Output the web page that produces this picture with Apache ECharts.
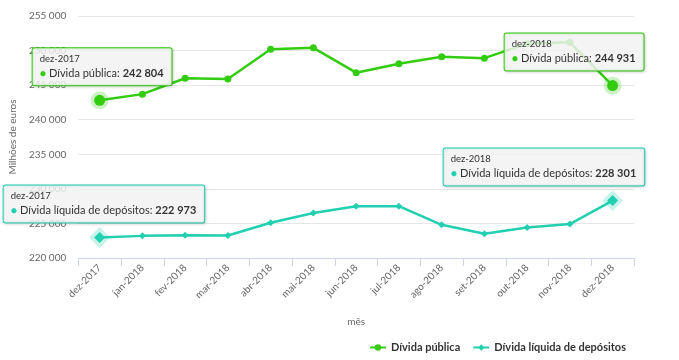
<!DOCTYPE html>
<html>
<head>
<meta charset="utf-8">
<script src="https://cdn.jsdelivr.net/npm/echarts@6/dist/echarts.min.js"></script>
<style>html,body{margin:0;padding:0;background:#fff;}#c{width:679px;height:360px;}</style>
</head>
<body>
<div id="c"></div>
<script>
const categories = ['dez-2017','jan-2018','fev-2018','mar-2018','abr-2018','mai-2018','jun-2018','jul-2018','ago-2018','set-2018','out-2018','nov-2018','dez-2018'];
const dividaPublica = [242804, 243700, 246000, 245900, 250200, 250400, 246800, 248100, 249100, 248900, 251000, 251200, 244931];
const dividaLiquida = [222973, 223200, 223300, 223250, 225100, 226500, 227500, 227500, 224800, 223500, 224400, 224900, 228301];
const seriesNames = ['Dívida pública', 'Dívida líquida de depósitos'];
const yTicks = { min: 220000, max: 255000, interval: 5000 };

const GREEN = '#33cc11';
const TEAL = '#22cfb0';
const FONT = 'Lato';

function fmt(v) { return String(v).replace(/\B(?=(\d{3})+(?!\d))/g, ' '); }

function buildData(values, color, haloColor, offsets) {
  return values.map((v, i) => {
    if (offsets[i] === undefined) return v;
    return {
      value: v,
      symbolSize: 11,
      itemStyle: { color: color, borderColor: haloColor, borderWidth: 7 },
      label: {
        show: true,
        position: 'top',
        distance: 6,
        offset: [offsets[i], 0],
        backgroundColor: 'rgba(248,248,248,0.82)',
        borderColor: color,
        borderWidth: 1,
        borderRadius: 2,
        padding: [4, 8, 4, 7],
        shadowColor: 'rgba(0,0,0,0.15)',
        shadowBlur: 3,
        shadowOffsetX: 1,
        shadowOffsetY: 1,
        align: 'left',
        formatter: p => '{d|' + p.name + '}\n{b|●} {n|' + p.seriesName + ': }{v|' + fmt(p.value) + '}',
        rich: {
          d: { fontSize: 9.5, color: '#333', fontFamily: FONT, lineHeight: 13 },
          b: { fontSize: 10.5, color: color, lineHeight: 16 },
          n: { fontSize: 11, color: '#333', fontFamily: FONT, lineHeight: 16 },
          v: { fontSize: 11, color: '#333', fontFamily: FONT, fontWeight: 'bold', lineHeight: 16 }
        }
      }
    };
  });
}

const chart = echarts.init(document.getElementById('c'), null, { renderer: 'canvas' });
chart.setOption({
  animation: false,
  textStyle: { fontFamily: FONT },
  grid: { left: 77, right: 45, top: 16, bottom: 102 },
  legend: {
    right: 48, top: 337,
    itemWidth: 16, itemHeight: 8, itemGap: 12,
    textStyle: { fontSize: 11, fontWeight: 'bold', color: '#333', fontFamily: FONT },
    data: seriesNames
  },
  xAxis: {
    type: 'category',
    data: categories,
    boundaryGap: true,
    name: 'mês',
    nameLocation: 'middle',
    nameGap: 59,
    nameTextStyle: { color: '#666', fontSize: 10, fontFamily: FONT },
    axisLine: { lineStyle: { color: '#ccd6eb' } },
    axisTick: { show: true, length: 8, interval: 0, lineStyle: { color: '#ccd6eb' } },
    axisLabel: { rotate: 45, interval: 0, color: '#666', fontSize: 10, fontFamily: FONT, margin: 8 }
  },
  yAxis: {
    type: 'value',
    min: yTicks.min, max: yTicks.max, interval: yTicks.interval,
    name: 'Milhões de euros',
    nameLocation: 'middle',
    nameGap: 60,
    nameRotate: 90,
    nameTextStyle: { color: '#666', fontSize: 10, fontFamily: FONT },
    axisLine: { show: false },
    axisTick: { show: false },
    splitLine: { lineStyle: { color: '#e6e6e6' } },
    axisLabel: { color: '#666', fontSize: 10, fontFamily: FONT, margin: 12, formatter: v => fmt(v) }
  },
  series: [
    {
      name: seriesNames[0],
      type: 'line',
      data: buildData(dividaPublica, GREEN, 'rgba(51,204,17,0.25)', { 0: -67, 12: -108 }),
      symbol: 'circle',
      symbolSize: 7,
      lineStyle: { width: 2.5, color: GREEN },
      itemStyle: { color: GREEN },
      z: 3
    },
    {
      name: seriesNames[1],
      type: 'line',
      data: buildData(dividaLiquida, TEAL, 'rgba(34,207,176,0.25)', { 0: -96, 12: -169 }),
      symbol: 'diamond',
      symbolSize: 7,
      lineStyle: { width: 2.5, color: TEAL },
      itemStyle: { color: TEAL },
      z: 2
    }
  ]
});
</script>
</body>
</html>
